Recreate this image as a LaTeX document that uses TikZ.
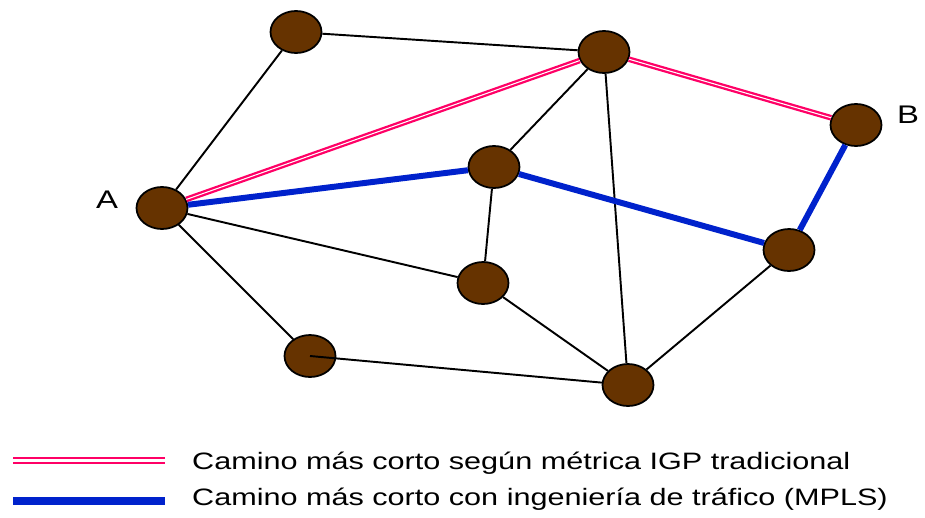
\documentclass[tikz,border=0pt]{standalone}
\usepackage{fontspec}
\setmainfont{Liberation Sans}
\definecolor{nodebrown}{RGB}{102,51,0}
\definecolor{igppink}{RGB}{255,0,102}
\definecolor{teblue}{RGB}{0,34,204}
\newcommand{\wide}[1]{\scalebox{1.29}[1]{#1}}
\tikzset{
  router/.style={ellipse, draw=black, line width=1pt, fill=nodebrown,
                 minimum width=1.02cm, minimum height=0.84cm, inner sep=0pt},
  link/.style={line width=1.1pt},
  igp/.style={draw=igppink, double=white, double distance=0.6pt, line width=1.3pt},
  mpls/.style={draw=teblue, line width=3.4pt},
  legendtext/.style={anchor=west, font=\fontsize{13.5}{15}\selectfont},
  endlabel/.style={font=\fontsize{14.5}{15}\selectfont}
}
\usetikzlibrary{shapes.geometric}
\begin{document}
\begin{tikzpicture}[x=0.02cm,y=-0.02cm]

        \useasboundingbox (0,0) rectangle (925,517);

        \node[router] (A)  at (162,208) {};
        \node[router] (TL) at (296,32)  {};
        \node[router] (T)  at (604,52)  {};
        \node[router] (B)  at (856,125) {};
        \node[router] (C)  at (494,167) {};
        \node[router] (R)  at (789,250) {};
        \node[router] (M)  at (483,283) {};
        \node[router] (BL) at (310,356) {};
        \node[router] (BT) at (628,385) {};

        \node[endlabel] (LA) at (107,200) {\wide{A}};
        \node[endlabel] (LB) at (908,115) {\wide{B}};

        \draw[link] (A) -- (TL);
        \draw[link] (TL) -- (T);
        \draw[link] (A) -- (M);
        \draw[link] (A) -- (BL);
        \draw[link] (BL.center) -- (BT);
        \draw[link] (M) -- (BT);
        \draw[link] (C) -- (M);
        \draw[link] (C) -- (T);
        \draw[link] (T) -- (BT);
        \draw[link] (R) -- (BT);

        \draw[igp] (A) -- (T);
        \draw[igp] (T) -- (B);

        \draw[mpls] (A) -- (C);
        \draw[mpls] (C) -- (R);
        \draw[mpls] (R) -- (B);

        % legend
        \coordinate (P1) at (13,460.5);
        \coordinate (P2) at (165,460.5);
        \coordinate (Q1) at (13,501);
        \coordinate (Q2) at (165,501);
        \draw[igp, line width=1.1pt, double distance=1.6pt] (P1) -- (P2);
        \draw[mpls, line width=4.4pt] (Q1) -- (Q2);
        \node[legendtext] (T1) at (186,463) {\wide{Camino más corto según métrica IGP tradicional}};
        \node[legendtext] (T2) at (186,499) {\wide{Camino más corto con ingeniería de tráfico (MPLS)}};

\end{tikzpicture}
\end{document}
